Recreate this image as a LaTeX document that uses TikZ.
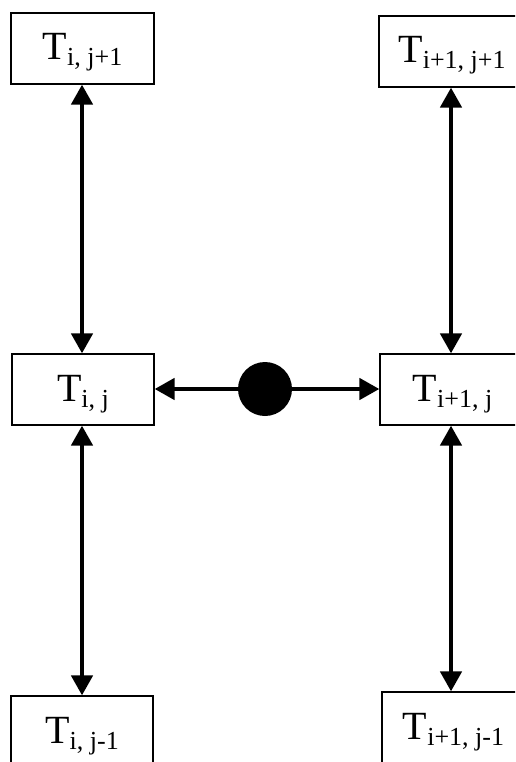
\documentclass[tikz,border=0pt]{standalone}
\usepackage{fontspec}
\setmainfont{Liberation Serif}
\usetikzlibrary{arrows.meta}
\newcommand{\Tlab}[1]{\fontsize{40}{40}\selectfont T\raisebox{-6pt}{\fontsize{26}{26}\selectfont #1}}
\begin{document}
\begin{tikzpicture}[x=1pt,y=-1pt,
  cell/.style={draw=black,line width=1.2pt,rectangle,minimum height=71pt,inner sep=0pt,
    text height=27pt,text depth=4pt,align=center},
  link/.style={line width=4.5pt,{Triangle[length=20pt,width=21pt]}-{Triangle[length=20pt,width=21pt]}},
  flow/.style={line width=4.5pt,-{Triangle[length=20pt,width=21pt]}},
  dot/.style={circle,fill=black,draw=none,minimum size=54pt,inner sep=0pt}]
\useasboundingbox (0,0) rectangle (515,762);
\clip (0,0) rectangle (515,762);
\fill[white] (0,0) rectangle (515,762);
\node[cell,minimum width=143pt] (A) at (82.5,48.5) {\Tlab{i, j+1}};
\node[cell,minimum width=146pt] (B) at (452,51.5) {\Tlab{i+1, j+1}};
\node[cell,minimum width=142pt] (C) at (83,389.5) {\Tlab{i, j}};
\node[cell,minimum width=145pt] (D) at (452.5,389.5) {\Tlab{i+1, j}};
\node[cell,minimum width=142pt] (E) at (82,731.5) {\Tlab{i, j-1}};
\node[cell,minimum width=143pt] (F) at (453.5,727.5) {\Tlab{i+1, j-1}};
\node[dot] (P) at (265,389) {};
\draw[link] ([xshift=-0.5pt]A.south) -- ([xshift=-0.5pt]A.south |- C.north);
\draw[link] ([xshift=-1pt]C.south) -- ([xshift=-1pt]C.south |- E.north);
\draw[link] ([xshift=-1pt]B.south) -- ([xshift=-1pt]B.south |- D.north);
\draw[link] ([xshift=-1.5pt]D.south) -- ([xshift=-1.5pt]D.south |- F.north);
\draw[flow] (P.west) -- (P.west -| C.east);
\draw[flow] (P.east) -- (P.east -| D.west);
\end{tikzpicture}
\end{document}
